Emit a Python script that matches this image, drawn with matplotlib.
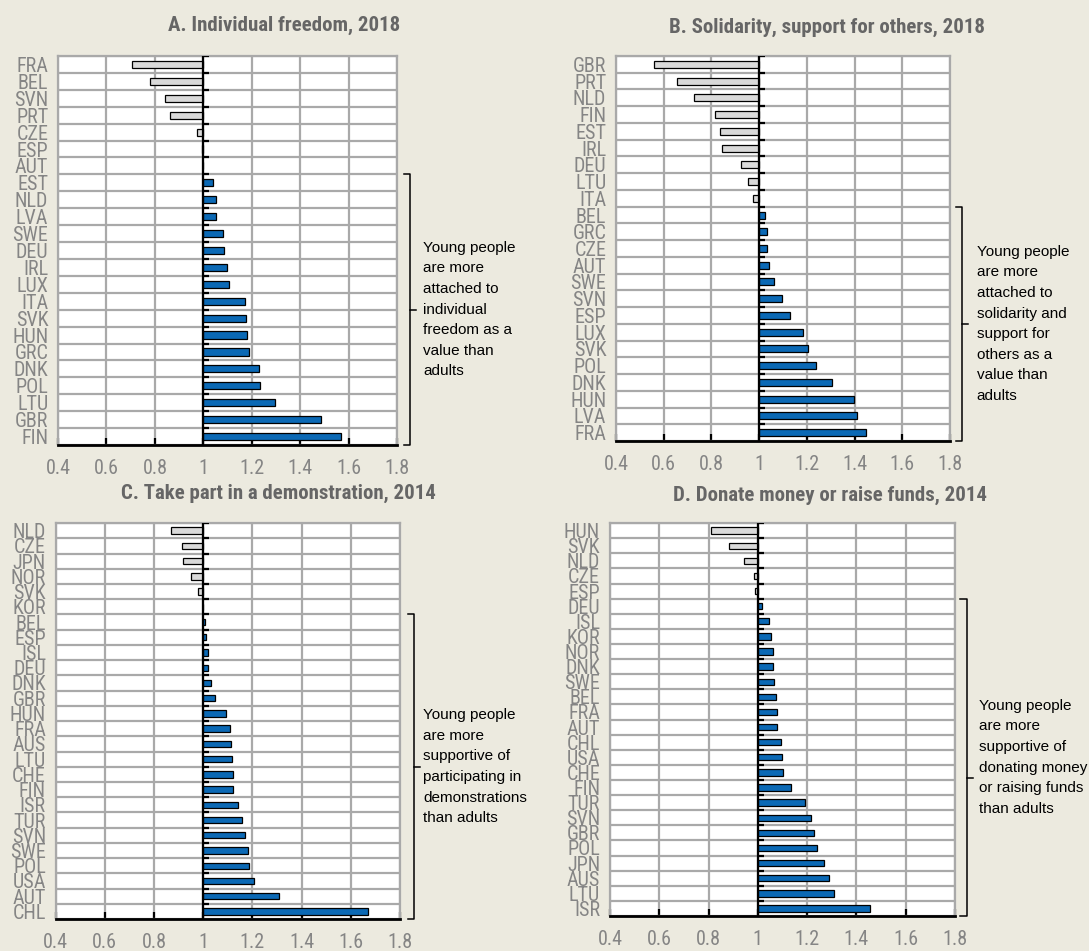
import matplotlib
matplotlib.use('Agg')
import matplotlib.pyplot as plt
import matplotlib.transforms as mtransforms
import numpy as np

# 数据：年轻人与成年人的比值
freedom_countries = ['FRA', 'BEL', 'SVN', 'PRT', 'CZE', 'ESP', 'AUT', 'EST', 'NLD', 'LVA', 'SWE', 'DEU',
                     'IRL', 'LUX', 'ITA', 'SVK', 'HUN', 'GRC', 'DNK', 'POL', 'LTU', 'GBR', 'FIN']
freedom_values = [0.707, 0.78, 0.842, 0.864, 0.972, 0.996, 1.0, 1.04, 1.051, 1.052, 1.081, 1.085,
                  1.099, 1.107, 1.172, 1.176, 1.179, 1.188, 1.23, 1.232, 1.296, 1.486, 1.569]

solidarity_countries = ['GBR', 'PRT', 'NLD', 'FIN', 'EST', 'IRL', 'DEU', 'LTU', 'ITA', 'BEL', 'GRC', 'CZE',
                        'AUT', 'SWE', 'SVN', 'ESP', 'LUX', 'SVK', 'POL', 'DNK', 'HUN', 'LVA', 'FRA']
solidarity_values = [0.56, 0.654, 0.728, 0.814, 0.834, 0.845, 0.923, 0.953, 0.973, 1.025, 1.031, 1.034,
                     1.043, 1.063, 1.094, 1.13, 1.183, 1.204, 1.237, 1.306, 1.397, 1.41, 1.447]

demo_countries = ['NLD', 'CZE', 'JPN', 'NOR', 'SVK', 'KOR', 'BEL', 'ESP', 'ISL', 'DEU', 'DNK', 'GBR', 'HUN',
                  'FRA', 'AUS', 'LTU', 'CHE', 'FIN', 'ISR', 'TUR', 'SVN', 'SWE', 'POL', 'USA', 'AUT', 'CHL']
demo_values = [0.871, 0.915, 0.916, 0.951, 0.977, 1.0, 1.007, 1.011, 1.018, 1.019, 1.033, 1.049, 1.091,
               1.11, 1.111, 1.119, 1.122, 1.123, 1.141, 1.156, 1.171, 1.184, 1.188, 1.207, 1.309, 1.668]

donate_countries = ['HUN', 'SVK', 'NLD', 'CZE', 'ESP', 'DEU', 'ISL', 'KOR', 'NOR', 'DNK', 'SWE', 'BEL', 'FRA',
                    'AUT', 'CHL', 'USA', 'CHE', 'FIN', 'TUR', 'SVN', 'GBR', 'POL', 'JPN', 'AUS', 'LTU', 'ISR']
donate_values = [0.811, 0.882, 0.945, 0.984, 0.99, 1.015, 1.045, 1.053, 1.061, 1.062, 1.065, 1.073, 1.077,
                 1.078, 1.093, 1.1, 1.101, 1.134, 1.191, 1.217, 1.227, 1.24, 1.268, 1.288, 1.309, 1.455]

x_ticks = [0.4, 0.6, 0.8, 1.0, 1.2, 1.4, 1.6, 1.8]
x_tick_labels = ['0.4', '0.6', '0.8', '1', '1.2', '1.4', '1.6', '1.8']

titles = ['A. Individual freedom, 2018', 'B. Solidarity, support for others, 2018',
          'C. Take part in a demonstration, 2014', 'D. Donate money or raise funds, 2014']
notes = ['Young people\nare more\nattached to\nindividual\nfreedom as a\nvalue than\nadults',
         'Young people\nare more\nattached to\nsolidarity and\nsupport for\nothers as a\nvalue than\nadults',
         'Young people\nare more\nsupportive of\nparticipating in\ndemonstrations\nthan adults',
         'Young people\nare more\nsupportive of\ndonating money\nor raising funds\nthan adults']

BG = '#ECEADF'
BLUE = '#0B69B5'
LIGHT = '#D9D9D9'
GRID = '#A9A9A9'
NARROW = ['Roboto Condensed', 'DejaVu Sans']


def draw_panel(ax, countries, values, note, bracket_x, text_x, tick_frac=0.5):
    n = len(countries)
    y = np.arange(n)
    values = np.array(values)
    colors = [BLUE if v > 1 else LIGHT for v in values]
    ax.set_facecolor('white')
    ax.barh(y, values - 1, left=1, height=0.42, color=colors, edgecolor='black', linewidth=0.9, zorder=3)
    ax.set_xlim(0.4, 1.8)
    ax.set_ylim(n - 0.5, -0.5)

    # 网格
    ax.set_xticks(x_ticks)
    ax.set_xticklabels(x_tick_labels, family=NARROW, fontsize=14.5, color='#858585')
    ax.set_yticks(y)
    ax.set_yticklabels(countries, family=NARROW, fontsize=14.5, color='#858585')
    ax.set_yticks(np.arange(n + 1) - 0.5, minor=True)
    ax.xaxis.grid(True, color=GRID, linewidth=1.6)
    ax.yaxis.grid(True, which='minor', color=GRID, linewidth=1.6)
    ax.set_axisbelow(True)
    ax.tick_params(axis='y', which='both', length=0, pad=7)
    ax.tick_params(axis='x', direction='in', length=5, width=1.6, color='black', pad=10)

    for side in ['left', 'top', 'right']:
        ax.spines[side].set_color(GRID)
        ax.spines[side].set_linewidth(1.6)
    ax.spines['bottom'].set_color('black')
    ax.spines['bottom'].set_linewidth(2)

    # x=1 的竖线和小刻度
    ax.axvline(1, color='black', linewidth=1.6, zorder=4)
    ax.hlines(np.arange(n) - 0.5, 1, 1.025, color='black', linewidth=1.6, zorder=4)

    # 括号，从第一个大于1的国家到底部
    first = int(np.argmax(values > 1))
    top = first - 0.5
    bottom = n - 0.5
    trans = mtransforms.blended_transform_factory(ax.transAxes, ax.transData)
    hook = 0.018
    ax.plot([bracket_x - hook, bracket_x, bracket_x, bracket_x - hook], [top, top, bottom, bottom],
            color='black', linewidth=1.1, transform=trans, clip_on=False)
    mid = top + (bottom - top) * tick_frac
    ax.plot([bracket_x, bracket_x + hook], [mid, mid], color='black', linewidth=1.1,
            transform=trans, clip_on=False)
    ax.text(text_x, (top + bottom) / 2, note, transform=trans, ha='left', va='center',
            family='Liberation Sans', fontsize=11, linespacing=1.6, color='black')


fig = plt.figure(figsize=(10.89, 9.51), dpi=100, facecolor=BG)
axA = fig.add_axes([0.0533, 0.5321, 0.3113, 0.409])
axB = fig.add_axes([0.5657, 0.5363, 0.3067, 0.4048])
axC = fig.add_axes([0.0511, 0.0336, 0.3162, 0.4164])
axD = fig.add_axes([0.5601, 0.0368, 0.3168, 0.4132])

draw_panel(axA, freedom_countries, freedom_values, notes[0], 1.038, 1.077)
draw_panel(axB, solidarity_countries, solidarity_values, notes[1], 1.036, 1.08)
draw_panel(axC, demo_countries, demo_values, notes[2], 1.041, 1.067)
draw_panel(axD, donate_countries, donate_values, notes[3], 1.034, 1.07, tick_frac=0.565)

# 标题
title_pos = [(0.2612, 0.9737), (0.759, 0.9716), (0.2553, 0.4816), (0.762, 0.4795)]
for t, (tx, ty) in zip(titles, title_pos):
    fig.text(tx, ty, t, ha='center', va='center', family=NARROW, fontweight='bold',
             fontsize=15, color='#666666')

fig.savefig('out.png', dpi=100, facecolor=BG)
